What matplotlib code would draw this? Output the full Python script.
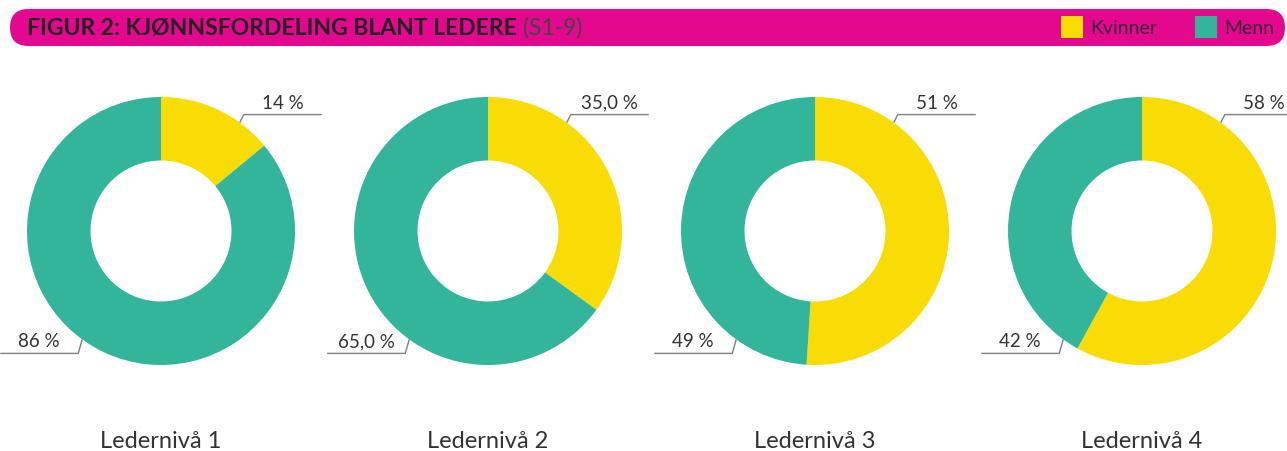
import numpy as np
import matplotlib
matplotlib.use("Agg")
import matplotlib.pyplot as plt
from matplotlib.patches import FancyBboxPatch, Rectangle

# ---- data ----
categories = ["Ledernivå 1", "Ledernivå 2", "Ledernivå 3", "Ledernivå 4"]
kvinner = [14, 35.0, 51, 58]
menn = [86, 65.0, 49, 42]
kvinner_labels = ["14 %", "35,0 %", "51 %", "58 %"]
menn_labels = ["86 %", "65,0 %", "49 %", "42 %"]
series_names = ["Kvinner", "Menn"]
title_bold = "FIGUR 2: KJØNNSFORDELING BLANT LEDERE"
title_rest = " (S1-9)"

# ---- style ----
W, H = 1287, 451
YELLOW = "#FADC05"
GREEN = "#32B59A"
MAGENTA = "#E3088D"
TEXT = "#333333"
LINE = "#7f7f7f"
FONT = ["Lato", "DejaVu Sans"]

plt.rcParams["font.family"] = FONT

fig = plt.figure(figsize=(W / 100, H / 100), dpi=100)
ax = fig.add_axes([0, 0, 1, 1])


def Y(ypix):
    return H - ypix


# layout (pixels)
cx0, step, cy = 161, 327, 231
R_OUT, R_IN = 134, 70.5
ANG_TOP, ANG_BOT = 54, 234
LINE_LEN = 78

for i, cat in enumerate(categories):
    cx = cx0 + i * step
    ax.pie([kvinner[i], menn[i]], colors=[YELLOW, GREEN], startangle=90,
           counterclock=False, center=(cx, Y(cy)), radius=R_OUT,
           wedgeprops=dict(width=R_OUT - R_IN, linewidth=0))

    # top label (Kvinner)
    a = np.deg2rad(ANG_TOP)
    ax0, ay0 = cx + R_OUT * np.cos(a), Y(cy) + R_OUT * np.sin(a)
    ex, ey = ax0 + 4, ay0 + 8
    ax.plot([ax0, ex, ex + LINE_LEN], [ay0, ey, ey], color=LINE, lw=1.0,
            solid_capstyle="butt")
    ax.text(ex + LINE_LEN / 2, ey + 3, kvinner_labels[i], ha="center",
            va="bottom", fontsize=13.5, color=TEXT)

    # bottom label (Menn)
    a = np.deg2rad(ANG_BOT)
    bx0, by0 = cx + R_OUT * np.cos(a), Y(cy) + R_OUT * np.sin(a)
    fx, fy = bx0 - 4, by0 - 14
    ax.plot([bx0, fx, fx - LINE_LEN], [by0, fy, fy], color=LINE, lw=1.0,
            solid_capstyle="butt")
    ax.text(fx - LINE_LEN / 2, fy + 3, menn_labels[i], ha="center",
            va="bottom", fontsize=13.5, color=TEXT)

    ax.text(cx, Y(442), cat, ha="center", va="center", fontsize=17,
            color=TEXT)

# header bar
bar = FancyBboxPatch((10, Y(46)), 1275, 37,
                     boxstyle="round,pad=0,rounding_size=18.5",
                     facecolor=MAGENTA, edgecolor="none")
ax.add_patch(bar)
t1 = ax.text(27, Y(28), title_bold, ha="left", va="center", fontsize=16.5,
             fontweight="bold", color="#222222")
ax.annotate(title_rest, xy=(1, 0), xycoords=t1, ha="left", va="bottom",
            fontsize=16.5, color="#444444")

# legend
for name, col, x0 in [(series_names[0], YELLOW, 1061), (series_names[1], GREEN, 1195)]:
    ax.add_patch(Rectangle((x0, Y(38)), 22, 22, facecolor=col, edgecolor="none"))
    ax.text(x0 + 29, Y(28), name, ha="left", va="center", fontsize=14,
            color="#3a2035")

ax.set_xlim(0, W)
ax.set_ylim(0, H)
ax.set_aspect("auto")
ax.axis("off")

fig.savefig("out.png", dpi=100)
